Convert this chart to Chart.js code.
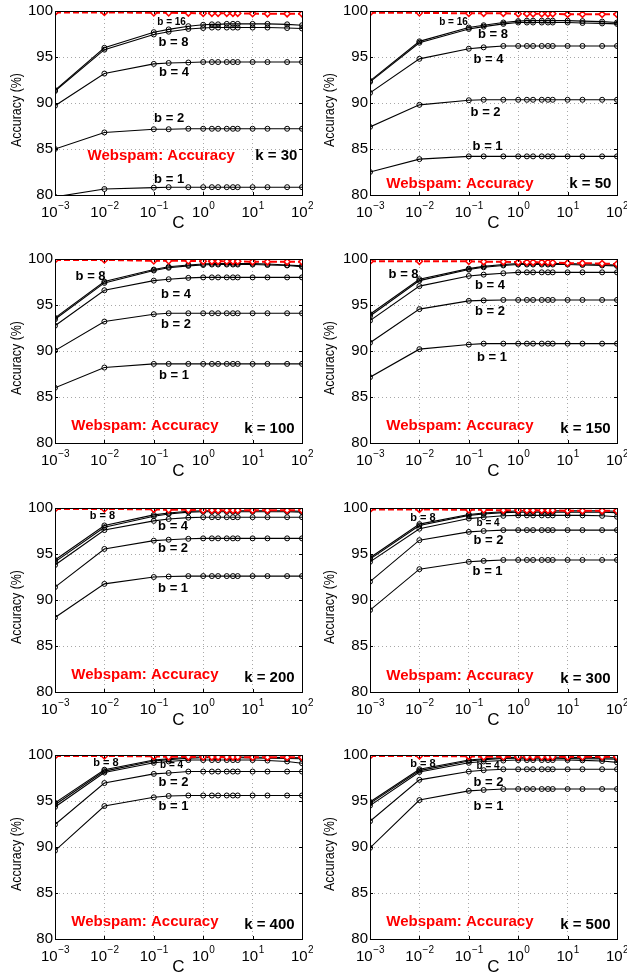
<!DOCTYPE html>
<html>
<head>
<meta charset="utf-8">
<script src="https://cdn.jsdelivr.net/npm/chart.js@4.4.1/dist/chart.umd.min.js"></script>
<style>
    html, body { margin: 0; padding: 0; background: #fff; }
    #wrap { position: relative; width: 627px; height: 979px; overflow: hidden; }
    #wrap canvas { position: absolute; }
</style>
</head>
<body>
<div id="wrap"></div>
<script>
// C values (x axis, log scale) and tick labels
const cValues = [0.001, 0.01, 0.1, 0.2, 0.5, 1, 1.5, 2, 3, 4, 5, 10, 20, 50, 100];
const xTickValues = [0.001, 0.01, 0.1, 1, 10, 100];
const yTickValues = [80, 85, 90, 95, 100];

// k = 30
const k30Red = [99.85, 99.85, 99.8, 99.8, 99.78, 99.75, 99.75, 99.75, 99.75, 99.75, 99.75, 99.72, 99.7, 99.7, 99.7];
const k30B16 = [91.4, 96.0, 97.7, 98.0, 98.35, 98.5, 98.55, 98.55, 98.6, 98.6, 98.6, 98.6, 98.6, 98.55, 98.45];
const k30B8 = [91.3, 95.8, 97.45, 97.75, 98.05, 98.15, 98.2, 98.2, 98.2, 98.2, 98.2, 98.2, 98.2, 98.15, 98.1];
const k30B4 = [89.7, 93.2, 94.25, 94.35, 94.4, 94.45, 94.45, 94.45, 94.45, 94.45, 94.45, 94.45, 94.45, 94.45, 94.45];
const k30B2 = [85.0, 86.8, 87.15, 87.15, 87.2, 87.2, 87.2, 87.2, 87.2, 87.2, 87.2, 87.2, 87.2, 87.2, 87.2];
const k30B1 = [79.8, 80.65, 80.8, 80.85, 80.85, 80.85, 80.85, 80.85, 80.85, 80.85, 80.85, 80.85, 80.85, 80.85, 80.85];

// k = 50
const k50Red = [99.8, 99.8, 99.75, 99.75, 99.75, 99.7, 99.7, 99.7, 99.7, 99.7, 99.7, 99.65, 99.65, 99.65, 99.65];
const k50B16 = [92.4, 96.7, 98.2, 98.45, 98.75, 98.9, 98.95, 98.95, 98.95, 98.95, 98.95, 98.95, 98.9, 98.85, 98.75];
const k50B8 = [92.3, 96.55, 98.05, 98.3, 98.6, 98.75, 98.75, 98.75, 98.75, 98.75, 98.75, 98.75, 98.7, 98.65, 98.6];
const k50B4 = [91.1, 94.8, 95.9, 96.05, 96.2, 96.2, 96.2, 96.2, 96.2, 96.2, 96.2, 96.2, 96.2, 96.2, 96.2];
const k50B2 = [87.4, 89.8, 90.3, 90.35, 90.35, 90.35, 90.35, 90.35, 90.35, 90.35, 90.35, 90.35, 90.35, 90.35, 90.35];
const k50B1 = [82.5, 83.9, 84.2, 84.2, 84.2, 84.2, 84.2, 84.2, 84.2, 84.2, 84.2, 84.2, 84.2, 84.2, 84.2];

// k = 100
const k100Red = [99.9, 99.9, 99.8, 99.8, 99.8, 99.75, 99.75, 99.75, 99.75, 99.75, 99.75, 99.7, 99.7, 99.7, 99.7];
const k100B16 = [93.6, 97.55, 98.85, 99.15, 99.35, 99.45, 99.5, 99.5, 99.5, 99.5, 99.5, 99.5, 99.45, 99.35, 99.25];
const k100B8 = [93.45, 97.4, 98.75, 99.05, 99.25, 99.35, 99.4, 99.4, 99.4, 99.4, 99.4, 99.4, 99.35, 99.3, 99.15];
const k100B4 = [92.75, 96.6, 97.65, 97.8, 97.95, 98.0, 98.0, 98.0, 98.0, 98.0, 98.0, 98.0, 98.0, 98.0, 98.0];
const k100B2 = [90.05, 93.2, 94.0, 94.1, 94.1, 94.1, 94.1, 94.1, 94.1, 94.1, 94.1, 94.1, 94.1, 94.1, 94.1];
const k100B1 = [86.0, 88.2, 88.6, 88.6, 88.6, 88.6, 88.6, 88.6, 88.6, 88.6, 88.6, 88.6, 88.6, 88.6, 88.6];

// k = 150
const k150Red = [99.75, 99.75, 99.75, 99.7, 99.7, 99.65, 99.65, 99.65, 99.65, 99.65, 99.6, 99.55, 99.55, 99.5, 99.45];
const k150B16 = [94.0, 97.8, 98.95, 99.2, 99.4, 99.5, 99.5, 99.5, 99.5, 99.5, 99.5, 99.5, 99.45, 99.4, 99.35];
const k150B8 = [93.8, 97.65, 98.85, 99.1, 99.3, 99.4, 99.4, 99.4, 99.4, 99.4, 99.4, 99.4, 99.35, 99.3, 99.25];
const k150B4 = [93.3, 97.05, 98.15, 98.3, 98.45, 98.55, 98.55, 98.55, 98.55, 98.55, 98.55, 98.55, 98.55, 98.55, 98.55];
const k150B2 = [90.9, 94.55, 95.45, 95.5, 95.55, 95.55, 95.55, 95.55, 95.55, 95.55, 95.55, 95.55, 95.55, 95.55, 95.55];
const k150B1 = [87.15, 90.2, 90.7, 90.8, 90.8, 90.8, 90.8, 90.8, 90.8, 90.8, 90.8, 90.8, 90.8, 90.8, 90.8];

// k = 200
const k200Red = [99.9, 99.9, 99.85, 99.8, 99.8, 99.75, 99.75, 99.75, 99.75, 99.75, 99.75, 99.75, 99.75, 99.75, 99.75];
const k200B16 = [94.35, 98.1, 99.25, 99.45, 99.65, 99.7, 99.7, 99.7, 99.7, 99.7, 99.7, 99.7, 99.7, 99.7, 99.65];
const k200B8 = [94.15, 97.9, 99.1, 99.35, 99.55, 99.6, 99.6, 99.6, 99.6, 99.6, 99.6, 99.6, 99.6, 99.6, 99.55];
const k200B4 = [93.8, 97.6, 98.6, 98.8, 98.95, 99.0, 99.0, 99.0, 99.0, 99.0, 99.0, 99.0, 99.0, 99.0, 99.0];
const k200B2 = [91.4, 95.55, 96.45, 96.55, 96.65, 96.7, 96.7, 96.7, 96.7, 96.7, 96.7, 96.7, 96.7, 96.7, 96.7];
const k200B1 = [88.1, 91.75, 92.5, 92.55, 92.6, 92.6, 92.6, 92.6, 92.6, 92.6, 92.6, 92.6, 92.6, 92.6, 92.6];

// k = 300
const k300Red = [99.85, 99.85, 99.8, 99.8, 99.75, 99.75, 99.75, 99.75, 99.75, 99.75, 99.75, 99.7, 99.7, 99.7, 99.7];
const k300B16 = [94.6, 98.25, 99.3, 99.45, 99.6, 99.7, 99.7, 99.7, 99.7, 99.7, 99.7, 99.7, 99.7, 99.7, 99.65];
const k300B8 = [94.45, 98.1, 99.2, 99.35, 99.5, 99.55, 99.55, 99.55, 99.55, 99.55, 99.55, 99.55, 99.55, 99.55, 99.5];
const k300B4 = [94.15, 97.75, 98.85, 99.0, 99.15, 99.2, 99.2, 99.2, 99.2, 99.2, 99.2, 99.2, 99.2, 99.15, 99.05];
const k300B2 = [92.0, 96.5, 97.4, 97.5, 97.6, 97.6, 97.6, 97.6, 97.6, 97.6, 97.6, 97.6, 97.6, 97.6, 97.6];
const k300B1 = [88.9, 93.35, 94.15, 94.25, 94.35, 94.35, 94.35, 94.35, 94.35, 94.35, 94.35, 94.35, 94.35, 94.35, 94.35];

// k = 400
const k400Red = [99.9, 99.9, 99.85, 99.8, 99.8, 99.78, 99.78, 99.78, 99.78, 99.78, 99.78, 99.75, 99.75, 99.75, 99.75];
const k400B16 = [94.8, 98.4, 99.45, 99.6, 99.75, 99.78, 99.78, 99.78, 99.78, 99.78, 99.78, 99.75, 99.75, 99.72, 99.7];
const k400B8 = [94.6, 98.25, 99.35, 99.5, 99.65, 99.7, 99.7, 99.7, 99.7, 99.7, 99.7, 99.68, 99.65, 99.62, 99.6];
const k400B4 = [94.35, 98.1, 99.15, 99.3, 99.45, 99.45, 99.45, 99.45, 99.45, 99.45, 99.45, 99.45, 99.4, 99.3, 99.1];
const k400B2 = [92.45, 96.95, 97.95, 98.05, 98.2, 98.2, 98.2, 98.2, 98.2, 98.2, 98.2, 98.2, 98.2, 98.2, 98.2];
const k400B1 = [89.6, 94.45, 95.4, 95.55, 95.6, 95.6, 95.6, 95.6, 95.6, 95.6, 95.6, 95.6, 95.6, 95.6, 95.6];

// k = 500
const k500Red = [99.9, 99.9, 99.85, 99.8, 99.8, 99.8, 99.8, 99.8, 99.8, 99.8, 99.8, 99.8, 99.8, 99.8, 99.8];
const k500B16 = [94.9, 98.45, 99.45, 99.6, 99.72, 99.75, 99.75, 99.75, 99.75, 99.75, 99.75, 99.75, 99.72, 99.72, 99.7];
const k500B8 = [94.75, 98.3, 99.35, 99.5, 99.62, 99.65, 99.65, 99.65, 99.65, 99.65, 99.65, 99.62, 99.6, 99.58, 99.55];
const k500B4 = [94.5, 98.15, 99.15, 99.3, 99.4, 99.45, 99.45, 99.45, 99.45, 99.45, 99.45, 99.45, 99.42, 99.35, 99.2];
const k500B2 = [92.8, 97.3, 98.2, 98.35, 98.45, 98.45, 98.45, 98.45, 98.45, 98.45, 98.45, 98.45, 98.45, 98.45, 98.45];
const k500B1 = [89.9, 95.1, 96.1, 96.2, 96.3, 96.3, 96.3, 96.3, 96.3, 96.3, 96.3, 96.3, 96.3, 96.3, 96.3];

const FONT = '"Liberation Sans", Arial, Helvetica, sans-serif';
const RED = '#ff0000';

// Text labels inside each plot: [text, log10(C), accuracy, font size, color]
const panels = [
    { k: 30, red: k30Red, lines: [k30B16, k30B8, k30B4, k30B2, k30B1], notes: [
        ['b = 16', -0.64, 98.73, 10], ['b = 8', -0.60, 96.56, 13], ['b = 4', -0.59, 93.3, 13],
        ['b = 2', -0.69, 88.3, 13], ['b = 1', -0.69, 81.7, 13],
        ['Webspam: Accuracy', -0.85, 84.24, 15, RED], ['k = 30', 1.48, 84.24, 15]] },
    { k: 50, red: k50Red, lines: [k50B16, k50B8, k50B4, k50B2, k50B1], notes: [
        ['b = 16', -1.31, 98.75, 10], ['b = 8', -0.51, 97.4, 13], ['b = 4', -0.60, 94.7, 13],
        ['b = 2', -0.66, 89.0, 13], ['b = 1', -0.62, 85.3, 13],
        ['Webspam: Accuracy', -1.18, 81.2, 15, RED], ['k = 50', 1.46, 81.2, 15]] },
    { k: 100, red: k100Red, lines: [k100B16, k100B8, k100B4, k100B2, k100B1], notes: [
        ['b = 8', -2.28, 98.13, 13], ['b = 4', -0.55, 96.16, 13],
        ['b = 2', -0.55, 92.85, 13], ['b = 1', -0.59, 87.36, 13],
        ['Webspam: Accuracy', -1.18, 81.9, 15, RED], ['k = 100', 1.34, 81.5, 15]] },
    { k: 150, red: k150Red, lines: [k150B16, k150B8, k150B4, k150B2, k150B1], notes: [
        ['b = 8', -2.32, 98.3, 13], ['b = 4', -0.57, 97.15, 13],
        ['b = 2', -0.57, 94.3, 13], ['b = 1', -0.53, 89.3, 13],
        ['Webspam: Accuracy', -1.18, 81.9, 15, RED], ['k = 150', 1.36, 81.5, 15]] },
    { k: 200, red: k200Red, lines: [k200B16, k200B8, k200B4, k200B2, k200B1], notes: [
        ['b = 8', -2.04, 99.1, 11], ['b = 4', -0.61, 98.0, 13],
        ['b = 2', -0.61, 95.57, 13], ['b = 1', -0.61, 91.24, 13],
        ['Webspam: Accuracy', -1.18, 81.9, 15, RED], ['k = 200', 1.34, 81.55, 15]] },
    { k: 300, red: k300Red, lines: [k300B16, k300B8, k300B4, k300B2, k300B1], notes: [
        ['b = 8', -1.93, 98.9, 11], ['b = 4', -0.61, 98.3, 10],
        ['b = 2', -0.60, 96.5, 13], ['b = 1', -0.62, 93.07, 13],
        ['Webspam: Accuracy', -1.18, 81.8, 15, RED], ['k = 300', 1.36, 81.45, 15]] },
    { k: 400, red: k400Red, lines: [k400B16, k400B8, k400B4, k400B2, k400B1], notes: [
        ['b = 8', -1.97, 99.1, 11], ['b = 4', -0.64, 98.85, 10],
        ['b = 2', -0.60, 96.97, 13], ['b = 1', -0.60, 94.4, 13],
        ['Webspam: Accuracy', -1.18, 81.84, 15, RED], ['k = 400', 1.34, 81.55, 15]] },
    { k: 500, red: k500Red, lines: [k500B16, k500B8, k500B4, k500B2, k500B1], notes: [
        ['b = 8', -1.93, 98.99, 11], ['b = 4', -0.61, 98.8, 10],
        ['b = 2', -0.60, 97.0, 13], ['b = 1', -0.60, 94.4, 13],
        ['Webspam: Accuracy', -1.18, 81.83, 15, RED], ['k = 500', 1.36, 81.55, 15]] }
];

// canvas placement: two columns, four rows
const rowTops = [0, 248, 497, 744];
const CANVAS_H = 235;

function toPoints(values) {
    return cValues.map((c, i) => ({ x: c, y: values[i] }));
}

// box around the plot area plus inward tick marks (matlab look)
function drawFrame(chart) {
    const { ctx, chartArea: a, scales: { x, y } } = chart;
    ctx.save();
    ctx.strokeStyle = '#000';
    ctx.lineWidth = 1;
    ctx.setLineDash([]);
    ctx.strokeRect(a.left + 0.5, a.top + 0.5, a.right - a.left, a.bottom - a.top);
    ctx.beginPath();
    xTickValues.forEach(v => {
        const px = Math.round(x.getPixelForValue(v)) + 0.5;
        ctx.moveTo(px, a.bottom); ctx.lineTo(px, a.bottom - 3);
        ctx.moveTo(px, a.top); ctx.lineTo(px, a.top + 3);
    });
    yTickValues.forEach(v => {
        const py = Math.round(y.getPixelForValue(v)) + 0.5;
        ctx.moveTo(a.left, py); ctx.lineTo(a.left + 3, py);
        ctx.moveTo(a.right, py); ctx.lineTo(a.right - 3, py);
    });
    ctx.stroke();
    ctx.restore();
}

// 10^n labels with a raised exponent, plus both axis titles
function drawAxisText(chart) {
    const { ctx, chartArea: a, scales: { x } } = chart;
    ctx.save();
    ctx.fillStyle = '#000';
    ctx.textAlign = 'left';
    ctx.textBaseline = 'alphabetic';
    xTickValues.forEach(v => {
        const e = Math.round(Math.log10(v));
        const exp = e < 0 ? '\u2212' + (-e) : String(e);
        ctx.font = '15px ' + FONT;
        const wBase = ctx.measureText('10').width;
        ctx.font = '10px ' + FONT;
        const wExp = ctx.measureText(exp).width;
        const start = x.getPixelForValue(v) - (wBase + wExp) / 2;
        ctx.font = '15px ' + FONT;
        ctx.fillText('10', start, a.bottom + 21.5);
        ctx.font = '10px ' + FONT;
        ctx.fillText(exp, start + wBase + 0.5, a.bottom + 14);
    });

    ctx.textAlign = 'center';
    ctx.textBaseline = 'middle';
    ctx.font = '17px ' + FONT;
    ctx.fillText('C', (a.left + a.right) / 2, a.bottom + 28);

    // y title: tall letters but a short run (~72px), as in the reference
    ctx.font = '15px ' + FONT;
    const w = ctx.measureText('Accuracy (%)').width;
    ctx.translate(17, (a.top + a.bottom) / 2 + 7);
    ctx.rotate(-Math.PI / 2);
    ctx.scale(74 / w, 1);
    ctx.fillText('Accuracy (%)', 0, 0);
    ctx.restore();
}

function drawNotes(chart, notes) {
    const { ctx, scales: { x, y } } = chart;
    ctx.save();
    ctx.textAlign = 'center';
    ctx.textBaseline = 'middle';
    notes.forEach(([text, logC, acc, size, color]) => {
        ctx.font = 'bold ' + size + 'px ' + FONT;
        ctx.fillStyle = color || '#000';
        ctx.fillText(text, x.getPixelForValue(Math.pow(10, logC)), y.getPixelForValue(acc));
    });
    ctx.restore();
}

function makePanel(p, index) {
    const col = index % 2;
    const row = Math.floor(index / 2);
    const canvas = document.createElement('canvas');
    const width = col ? 314 : 313;
    canvas.width = width;
    canvas.height = CANVAS_H;
    canvas.style.left = (col ? 313 : 0) + 'px';
    canvas.style.top = rowTops[row] + 'px';
    canvas.style.width = width + 'px';
    canvas.style.height = CANVAS_H + 'px';
    document.getElementById('wrap').appendChild(canvas);

    const datasets = [{
        data: toPoints(p.red),
        borderColor: RED,
        borderWidth: 2,
        borderDash: [6, 3],
        pointStyle: 'rectRot',
        pointRadius: 3.1,
        pointBorderWidth: 1.5,
        pointBorderColor: RED,
        pointBackgroundColor: '#fff',
        tension: 0
    }];
    p.lines.forEach(vals => {
        datasets.push({
            data: toPoints(vals),
            borderColor: '#000',
            borderWidth: 1.1,
            pointStyle: 'circle',
            pointRadius: 2.5,
            pointBorderWidth: 1,
            pointBorderColor: '#000',
            pointBackgroundColor: 'rgba(255,255,255,0)',
            tension: 0
        });
    });

    const deco = {
        id: 'deco' + index,
        afterDatasetsDraw(chart) {
            drawNotes(chart, p.notes);
            drawFrame(chart);
        },
        afterDraw(chart) {
            drawAxisText(chart);
        }
    };

    new Chart(canvas.getContext('2d'), {
        type: 'line',
        data: { datasets: datasets },
        plugins: [deco],
        options: {
            responsive: false,
            animation: false,
            events: [],
            layout: { padding: { left: 0, right: col ? 10 : 11, top: 10, bottom: 0 } },
            plugins: { legend: { display: false }, tooltip: { enabled: false } },
            scales: {
                x: {
                    type: 'logarithmic',
                    min: 0.001,
                    max: 100,
                    afterBuildTicks: s => { s.ticks = xTickValues.map(v => ({ value: v })); },
                    afterFit: s => { s.height = 40; },
                    ticks: { display: false },
                    grid: { color: '#a8a8a8', lineWidth: 1, drawTicks: false },
                    border: { display: false, dash: [1, 3] }
                },
                y: {
                    type: 'linear',
                    min: 80,
                    max: 100,
                    afterBuildTicks: s => { s.ticks = yTickValues.map(v => ({ value: v })); },
                    afterFit: s => { s.width = col ? 57 : 55; },
                    ticks: { color: '#000', font: { family: FONT, size: 15 }, padding: 2 },
                    grid: { color: '#a8a8a8', lineWidth: 1, drawTicks: false },
                    border: { display: false, dash: [1, 3] }
                }
            }
        }
    });
}

panels.forEach((p, i) => makePanel(p, i));
</script>
</body>
</html>
